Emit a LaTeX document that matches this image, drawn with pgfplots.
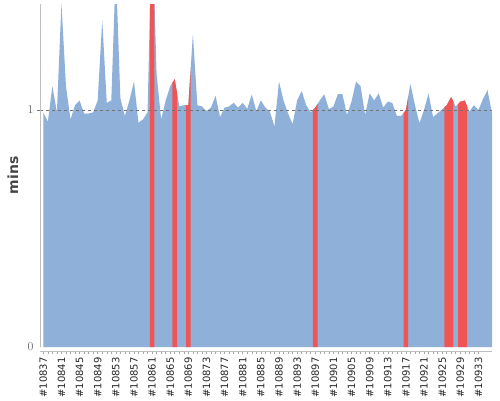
\documentclass[border=0pt]{standalone}
\usepackage{pgfplots}
\pgfplotsset{compat=1.18}
\usepackage{pgfplotstable}
\usepackage{fontspec}
\setmainfont{DejaVu Sans}
\definecolor{areablue}{RGB}{143,177,217}
\definecolor{hired}{RGB}{240,84,84}

\pgfplotstableread{
i v
0 0.99
1 0.95
2 1.10
3 0.99
4 1.45
5 1.10
6 0.96
7 1.02
8 1.04
9 0.985
10 0.985
11 0.99
12 1.04
13 1.38
14 1.03
15 1.04
16 1.60
17 1.05
18 0.975
19 1.04
20 1.12
21 0.946
22 0.96
23 0.99
24 1.80
25 1.15
26 0.96
27 1.04
28 1.10
29 1.13
30 1.015
31 1.02
32 1.02
33 1.32
34 1.02
35 1.015
36 0.995
37 1.01
38 1.06
39 0.97
40 1.01
41 1.015
42 1.03
43 1.01
44 1.03
45 1.005
46 1.065
47 0.995
48 1.04
49 1.01
50 0.993
51 0.93
52 1.12
53 1.04
54 0.985
55 0.94
56 1.04
57 1.08
58 1.02
59 0.99
60 1.01
61 1.04
62 1.066
63 1.004
64 1.014
65 1.067
66 1.067
67 0.979
68 1.035
69 1.12
70 1.10
71 0.979
72 1.07
73 1.04
74 1.07
75 1.01
76 1.035
77 1.03
78 0.975
79 0.975
80 1.00
81 1.11
82 1.02
83 0.944
84 1.00
85 1.07
86 0.97
87 0.986
88 1.003
89 1.02
90 1.055
91 1.014
92 1.035
93 1.04
94 0.993
95 1.02
96 1.00
97 1.045
98 1.084
99 0.986
}\data

\begin{document}
\begin{tikzpicture}[x=1pt,y=1pt]
\useasboundingbox (0,0) rectangle (500,400);
\begin{axis}[
  at={(40pt,53pt)}, anchor=south west,
  scale only axis, width=452pt, height=343pt,
  xmin=-0.73, xmax=99, ymin=0, ymax=1.447,
  axis lines*=left,
  axis x line shift=4pt,
  axis line style={-, draw=black!25, line width=0.8pt},
  axis on top,
  xtick={0,4,...,96},
  xticklabels={\#10837,\#10841,\#10845,\#10849,\#10853,\#10857,\#10861,\#10865,\#10869,\#10873,\#10877,\#10881,\#10885,\#10889,\#10893,\#10897,\#10901,\#10905,\#10909,\#10913,\#10917,\#10921,\#10925,\#10929,\#10933},
  minor x tick num=3,
  tick align=outside,
  major tick length=3pt, minor tick length=3pt,
  every x tick/.style={draw=black!35, line width=0.5pt},
  xticklabel style={rotate=90, anchor=east, font=\fontsize{10}{12}\selectfont, text=black!85},
  ytick={1},
  extra y ticks={0},
  extra y tick style={grid=none, major tick length=0pt, yticklabel style={xshift=-3pt}},
  every y tick/.style={draw=black!55, dashed, line width=0.5pt},
  yticklabel style={font=\fontsize{12}{14}\selectfont, text=black!60},
  ymajorgrids,
  grid style={dashed, black!55, line width=0.5pt},
  ylabel={mins},
  every axis y label/.style={at={(axis description cs:-0.06,0.5)}, rotate=90, anchor=center, font=\bfseries\fontsize{14}{16}\selectfont, text=black!72},
]
\addplot[fill=areablue, draw=none] table[x=i,y=v]{\data} \closedcycle;
\begin{scope}
\clip (axis cs:23.5,0) rectangle (axis cs:24.5,2)
      (axis cs:28.5,0) rectangle (axis cs:29.5,2)
      (axis cs:31.5,0) rectangle (axis cs:32.5,2)
      (axis cs:59.5,0) rectangle (axis cs:60.5,2)
      (axis cs:79.5,0) rectangle (axis cs:80.5,2)
      (axis cs:88.5,0) rectangle (axis cs:90.5,2)
      (axis cs:91.5,0) rectangle (axis cs:93.5,2);
\addplot[fill=hired, draw=none] table[x=i,y=v]{\data} \closedcycle;
\end{scope}
\end{axis}
\end{tikzpicture}
\end{document}
